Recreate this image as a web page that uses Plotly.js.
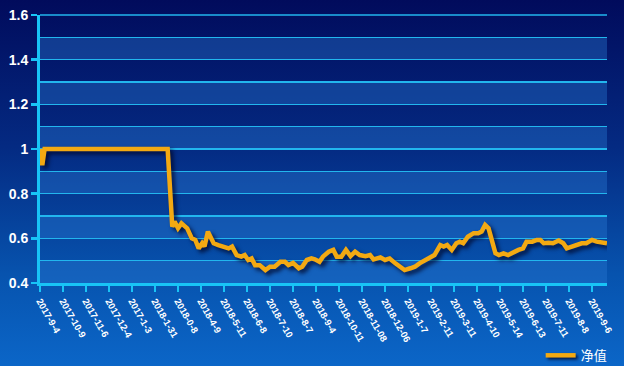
<!DOCTYPE html>
<html>
<head>
<meta charset="utf-8">
<script src="https://cdn.plot.ly/plotly-3.0.1.min.js"></script>
<style>
  html, body { margin: 0; padding: 0; width: 624px; height: 366px; overflow: hidden; }
  body { background: linear-gradient(to bottom, #010b5c 0%, #042a82 40%, #0753ae 75%, #0b66c8 100%); }
  #chart { width: 624px; height: 366px; }
  .scatterlayer .trace { filter: drop-shadow(3px 3px 2px rgba(0, 5, 40, 0.8)); }
  .legend .legendlines { filter: drop-shadow(2px 2px 1.5px rgba(0, 5, 40, 0.8)); }
</style>
</head>
<body>
<div id="chart"></div>
<script>
// trading-day index of each sampled point
const days = [0, 2, 4, 111, 115, 117, 120, 123, 128, 132, 135, 138, 141, 143, 146, 148, 151, 155, 159, 164, 167,
  171, 175, 178, 181, 184, 187, 191, 196, 200, 204, 209, 213, 216, 220, 225, 228, 232, 236, 239, 243, 246,
  251, 255, 258, 262, 266, 270, 274, 278, 283, 287, 290, 296, 300, 304, 309, 313, 317, 322, 326, 330, 335,
  339, 343, 348, 351, 354, 358, 362, 365, 368, 372, 377, 381, 384, 387, 390, 393, 396, 399, 403, 407, 412,
  416, 420, 423, 428, 432, 435, 438, 442, 446, 451, 455, 458, 462, 467, 471, 475, 480, 484, 488, 493];
// net value (净值)
const nav = [1.0, 0.928, 1.0, 1.0, 0.652, 0.675, 0.645, 0.667, 0.645, 0.60, 0.593, 0.555, 0.578, 0.563, 0.63, 0.607,
  0.578, 0.57, 0.563, 0.555, 0.563, 0.525, 0.518, 0.525, 0.503, 0.51, 0.48, 0.48, 0.458, 0.473, 0.473, 0.495,
  0.495, 0.48, 0.49, 0.466, 0.473, 0.503, 0.51, 0.506, 0.495, 0.518, 0.54, 0.548, 0.518, 0.518, 0.548, 0.52,
  0.54, 0.525, 0.52, 0.525, 0.506, 0.515, 0.503, 0.51, 0.488, 0.473, 0.458, 0.466, 0.473, 0.488, 0.503, 0.515,
  0.525, 0.57, 0.563, 0.57, 0.548, 0.578, 0.585, 0.578, 0.607, 0.623, 0.623, 0.63, 0.66, 0.645, 0.593, 0.533,
  0.525, 0.533, 0.525, 0.54, 0.548, 0.555, 0.585, 0.585, 0.593, 0.593, 0.578, 0.58, 0.578, 0.59, 0.578, 0.555,
  0.563, 0.57, 0.578, 0.578, 0.593, 0.585, 0.58, 0.578];
// x tick positions (trading-day index) and their labels
const tickDays = [0, 20, 40, 60, 80, 100, 120, 140, 160, 180, 200, 220, 240, 260, 280, 300, 320, 340, 360, 380,
  400, 420, 440, 460, 480];
const tickLabels = ['2017-9-4', '2017-10-9', '2017-11-6', '2017-12-4', '2017-1-3', '2018-1-31', '2018-0-8',
  '2018-4-9', '2018-5-11', '2018-6-8', '2018-7-10', '2018-8-7', '2018-9-4', '2018-10-11', '2018-11-08',
  '2018-12-06', '2019-1-7', '2019-2-11', '2019-3-11', '2019-4-10', '2019-5-14', '2019-6-13', '2019-7-11',
  '2019-8-8', '2019-9-6'];
const seriesName = '净值';

const yMin = 0.4, yMax = 1.6, bandStep = 0.1;
const gridColor = '#22b6ee';
const shapes = [];
for (let v = yMin; v < yMax - 1e-9; v += 2 * bandStep) {
  shapes.push({
    type: 'rect', layer: 'below', xref: 'paper', yref: 'y',
    x0: 0, x1: 1, y0: v, y1: v + bandStep,
    fillcolor: 'rgba(40,120,210,0.40)', line: { width: 0 }
  });
}
// top border gridline
shapes.push({ type: 'line', layer: 'below', xref: 'paper', yref: 'paper', x0: 0, x1: 1, y0: 1, y1: 1,
  line: { color: gridColor, width: 1.3 } });

const cyan = '#18c4f6';
const trace = {
  x: days, y: nav, name: seriesName, type: 'scatter', mode: 'lines',
  line: { color: '#f3a912', width: 4.5, shape: 'linear' }
};

const layout = {
  width: 624, height: 366,
  paper_bgcolor: 'rgba(0,0,0,0)', plot_bgcolor: 'rgba(0,0,0,0)',
  margin: { l: 40, r: 17, t: 15, b: 83, autoexpand: false },
  font: { family: 'Liberation Sans, Arial, sans-serif', color: '#ffffff' },
  showlegend: true,
  legend: {
    x: 1.01, xanchor: 'right', y: -0.27, yanchor: 'middle', orientation: 'h',
    itemwidth: 30,
    font: { family: 'Noto Sans CJK SC, sans-serif', size: 13, color: '#ffffff' },
    bgcolor: 'rgba(0,0,0,0)'
  },
  xaxis: {
    range: [0, 493], showgrid: false, zeroline: false,
    showline: true, linecolor: cyan, linewidth: 3,
    tickmode: 'array', tickvals: tickDays, ticktext: tickLabels,
    ticks: 'outside', ticklen: 6, tickwidth: 2.5, tickcolor: cyan,
    tickangle: 60,
    tickfont: { family: 'Liberation Sans, Arial, sans-serif', size: 9.5, color: '#ffffff', weight: 'bold' }
  },
  yaxis: {
    range: [yMin, yMax], dtick: 0.2, tick0: 0.4,
    showgrid: true, gridcolor: gridColor, gridwidth: 1.3, zeroline: false,
    minor: { dtick: 0.1, tick0: 0.4, showgrid: true, gridcolor: gridColor, gridwidth: 1.3, ticks: '' },
    showline: true, linecolor: cyan, linewidth: 3,
    ticks: 'outside', ticklen: 6, tickwidth: 2.5, tickcolor: cyan,
    tickfont: { family: 'Liberation Sans, Arial, sans-serif', size: 14, color: '#ffffff', weight: 'bold' }
  },
  shapes: shapes
};

Plotly.newPlot('chart', [trace], layout, { displayModeBar: false, staticPlot: true });
</script>
</body>
</html>
